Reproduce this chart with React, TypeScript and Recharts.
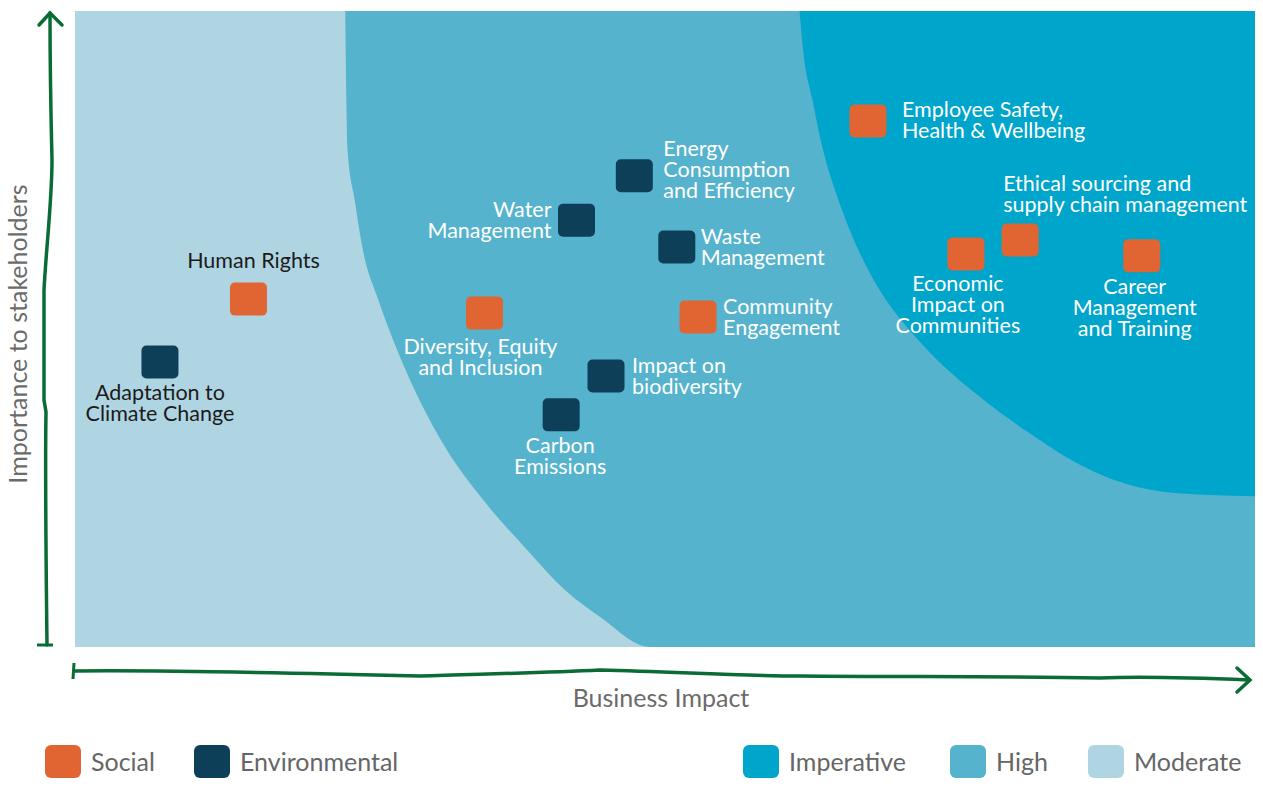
import { ComposedChart, Area, Scatter, XAxis, YAxis } from "recharts";

// zone boundaries (business impact on x, stakeholder importance on y, both 0-100)
const zoneX = [
    0, 22.9, 23.1, 23.7, 24.4, 25.7, 27.3, 29.2, 31.5, 34.6, 38.3, 41.5, 44.5, 48.7,
    61.4, 61.7, 62.5, 63.4, 64.7, 66.4, 68.2, 70.5, 72.5, 76.7, 80.9, 85.2, 88.0, 92.2, 96.2, 100,
];
const moderateEdge = [
    0, 0, 0, 0, 0, 0, 0, 0, 0, 0, 0, 0, 0, 0,
    0, 0, 0, 0, 0, 0, 0, 0, 0, 0, 0, 0, 0, 0, 0, 0,
];
const highEdge = [
    null, 100, 78.1, 70.3, 62.4, 54.6, 46.7, 38.8, 31.0, 23.1, 15.3, 9.0, 4.7, 0,
    0, 0, 0, 0, 0, 0, 0, 0, 0, 0, 0, 0, 0, 0, 0, 0,
];
const imperativeEdge = [
    null, null, null, null, null, null, null, null, null, null, null, null, null, null,
    100, 93.9, 86.0, 78.1, 70.3, 62.4, 56.1, 50.3, 46.2, 39.3, 33.6, 28.6, 26.3, 24.4, 23.9, 23.7,
];

const socialTopics = [
    "Human Rights",
    "Diversity, Equity\nand Inclusion",
    "Community\nEngagement",
    "Employee Safety,\nHealth & Wellbeing",
    "Economic\nImpact on\nCommunities",
    "Ethical sourcing and\nsupply chain management",
    "Career\nManagement\nand Training",
];
const socialBusiness = [14.7, 34.7, 52.8, 67.2, 75.5, 80.1, 90.4];
const socialStakeholder = [54.7, 52.5, 51.9, 82.7, 61.8, 64.0, 61.5];

const environmentalTopics = [
    "Adaptation to\nClimate Change",
    "Water\nManagement",
    "Energy\nConsumption\nand Efficiency",
    "Waste\nManagement",
    "Impact on\nbiodiversity",
    "Carbon\nEmissions",
];
const environmentalBusiness = [7.2, 42.5, 47.4, 51.0, 45.0, 41.2];
const environmentalStakeholder = [44.8, 67.1, 74.1, 62.9, 42.6, 36.5];

const legendLeft = ["Social", "Environmental"];
const legendRight = ["Imperative", "High", "Moderate"];

const COLORS: Record<string, string> = {
    Social: "#e06533",
    Environmental: "#0e3f58",
    Imperative: "#00a5cc",
    High: "#56b3cd",
    Moderate: "#b0d5e2",
};
const AXIS_GREEN = "#0b6b34";

// where each label sits relative to its marker
const labelLayout: Record<string, { dx: number; dy: number; anchor: "start" | "middle" | "end"; dark?: boolean }> = {
    "Human Rights": { dx: 5, dy: -31, anchor: "middle", dark: true },
    "Diversity, Equity\nand Inclusion": { dx: -4, dy: 41, anchor: "middle" },
    "Community\nEngagement": { dx: 25, dy: -3, anchor: "start" },
    "Employee Safety,\nHealth & Wellbeing": { dx: 34, dy: -4, anchor: "start" },
    "Economic\nImpact on\nCommunities": { dx: -8, dy: 37, anchor: "middle" },
    "Ethical sourcing and\nsupply chain management": { dx: -17, dy: -49, anchor: "start" },
    "Career\nManagement\nand Training": { dx: -7, dy: 38, anchor: "middle" },
    "Adaptation to\nClimate Change": { dx: 0, dy: 38, anchor: "middle", dark: true },
    "Water\nManagement": { dx: -25, dy: -3, anchor: "end" },
    "Energy\nConsumption\nand Efficiency": { dx: 29, dy: -20, anchor: "start" },
    "Waste\nManagement": { dx: 24, dy: -3, anchor: "start" },
    "Impact on\nbiodiversity": { dx: 26, dy: -3, anchor: "start" },
    "Carbon\nEmissions": { dx: -1, dy: 38, anchor: "middle" },
};

const FONT = "Lato, 'Open Sans', sans-serif";

const zoneData = zoneX.map((x, i) => ({
    x,
    moderate: moderateEdge[i],
    high: highEdge[i],
    imperative: imperativeEdge[i],
}));

const socialData = socialTopics.map((name, i) => ({ name, x: socialBusiness[i], y: socialStakeholder[i] }));
const environmentalData = environmentalTopics.map((name, i) => ({
    name,
    x: environmentalBusiness[i],
    y: environmentalStakeholder[i],
}));

function makeMarker(color: string) {
    return function Marker(props: any) {
        const { cx, cy, payload } = props;
        if (cx == null || cy == null) return <g />;
        const layout = labelLayout[payload.name];
        const lines = String(payload.name).split("\n");
        return (
            <g>
                <rect x={cx - 18.5} y={cy - 16.5} width={37} height={33} rx={5} fill={color} />
                <text
                    x={cx + layout.dx}
                    y={cy + layout.dy}
                    textAnchor={layout.anchor}
                    fill={layout.dark ? "#1b1b1b" : "#ffffff"}
                    fontFamily={FONT}
                    fontSize={21.5}
                >
                    {lines.map((line, i) => (
                        <tspan key={i} x={cx + layout.dx} dy={i === 0 ? 0 : 21}>
                            {line}
                        </tspan>
                    ))}
                </text>
            </g>
        );
    };
}

function YTitle(props: any) {
    const { x, y, height } = props.viewBox;
    const cy = y + height / 2 + 5;
    return (
        <g>
            <path
                d="M47,645 C46,560 45,470 46,412 L44,400 C44,330 44,300 44,290 C46,250 52,200 52,160 C51,120 50,60 50,13"
                fill="none"
                stroke={AXIS_GREEN}
                strokeWidth={3.5}
                strokeLinecap="round"
            />
            <path d="M39,25 L50,13 L62,25" fill="none" stroke={AXIS_GREEN} strokeWidth={3.5} strokeLinecap="round" />
            <path d="M37,645 L53,645" fill="none" stroke={AXIS_GREEN} strokeWidth={3} />
            <text
                x={x + 17}
                y={cy}
                transform={`rotate(-90, ${x + 17}, ${cy})`}
                textAnchor="middle"
                dominantBaseline="central"
                fill="#6b6b6b"
                fontFamily={FONT}
                fontSize={25}
            >
                Importance to stakeholders
            </text>
        </g>
    );
}

function XTitle(props: any) {
    const { x, y, width } = props.viewBox;
    return (
        <g>
            <path
                d="M74,671 C160,670 300,673 420,676 C480,674 540,673 600,670 C680,672 740,676 800,676 C900,677 1000,676 1100,678 C1150,676 1200,678 1249,680"
                fill="none"
                stroke={AXIS_GREEN}
                strokeWidth={3.5}
                strokeLinecap="round"
            />
            <path d="M1237,668 L1250,680 L1237,692" fill="none" stroke={AXIS_GREEN} strokeWidth={3.5} strokeLinecap="round" />
            <path d="M74,663 L73,679" fill="none" stroke={AXIS_GREEN} strokeWidth={3} />
            <text x={x + width / 2 - 4} y={y + 60} textAnchor="middle" fill="#6b6b6b" fontFamily={FONT} fontSize={25}>
                Business Impact
            </text>
        </g>
    );
}

function LegendItem({ name, left }: { name: string; left: number }) {
    return (
        <div style={{ position: "absolute", left, top: 745, display: "flex", alignItems: "center" }}>
            <div style={{ width: 36, height: 33, borderRadius: 6, background: COLORS[name] }} />
            <span style={{ marginLeft: 10, fontSize: 25, color: "#666666", fontFamily: FONT, lineHeight: "33px" }}>
                {name}
            </span>
        </div>
    );
}

const legendLeftPos = [45, 194];
const legendRightPos = [743, 950, 1088];

export default function App() {
    return (
        <div
            style={{
                position: "absolute",
                left: 0,
                top: 0,
                width: 1263,
                height: 792,
                background: "#ffffff",
                fontFamily: FONT,
            }}
        >
            <ComposedChart
                width={1263}
                height={720}
                data={zoneData}
                margin={{ top: 11, right: 8, bottom: 0, left: 0 }}
            >
                <XAxis
                    dataKey="x"
                    type="number"
                    domain={[0, 100]}
                    allowDataOverflow
                    height={73}
                    axisLine={false}
                    tickLine={false}
                    tick={false}
                    label={<XTitle />}
                />
                <YAxis
                    type="number"
                    domain={[0, 100]}
                    allowDataOverflow
                    width={75}
                    axisLine={false}
                    tickLine={false}
                    tick={false}
                    label={<YTitle />}
                />
                <Area
                    dataKey="moderate"
                    type="linear"
                    baseValue={100}
                    stroke="none"
                    fill={COLORS.Moderate}
                    fillOpacity={1}
                    dot={false}
                    activeDot={false}
                    isAnimationActive={false}
                />
                <Area
                    dataKey="high"
                    type="monotone"
                    baseValue={100}
                    stroke="none"
                    fill={COLORS.High}
                    fillOpacity={1}
                    dot={false}
                    activeDot={false}
                    isAnimationActive={false}
                />
                <Area
                    dataKey="imperative"
                    type="monotone"
                    baseValue={100}
                    stroke="none"
                    fill={COLORS.Imperative}
                    fillOpacity={1}
                    dot={false}
                    activeDot={false}
                    isAnimationActive={false}
                />
                <Scatter
                    name="Social"
                    data={socialData}
                    dataKey="y"
                    shape={makeMarker(COLORS.Social)}
                    isAnimationActive={false}
                />
                <Scatter
                    name="Environmental"
                    data={environmentalData}
                    dataKey="y"
                    shape={makeMarker(COLORS.Environmental)}
                    isAnimationActive={false}
                />
            </ComposedChart>
            {legendLeft.map((name, i) => (
                <LegendItem key={name} name={name} left={legendLeftPos[i]} />
            ))}
            {legendRight.map((name, i) => (
                <LegendItem key={name} name={name} left={legendRightPos[i]} />
            ))}
        </div>
    );
}
